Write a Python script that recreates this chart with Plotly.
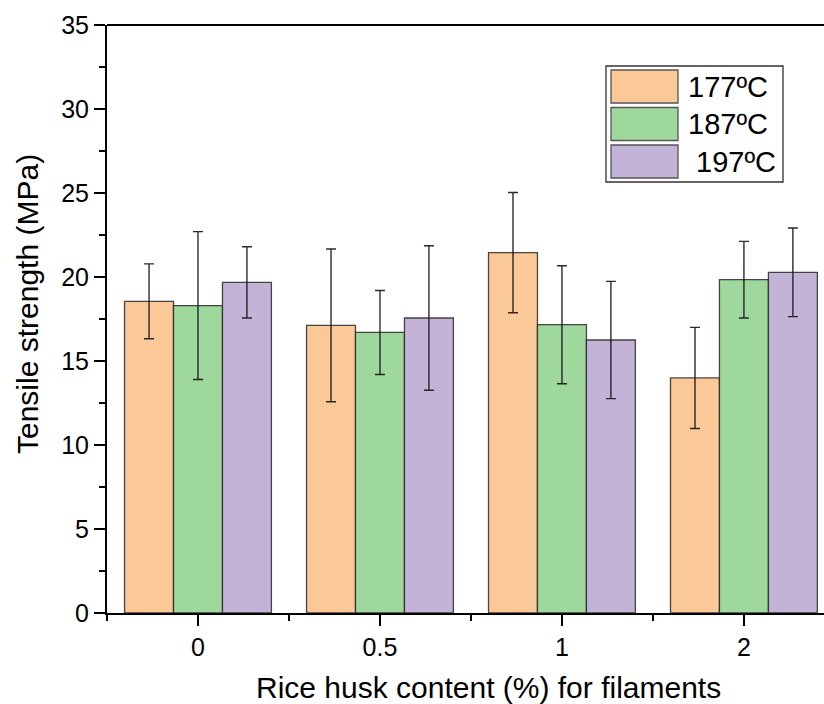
import plotly.graph_objects as go

categories = ["0", "0.5", "1", "2"]
series_names = ["177ºC", "187ºC", " 197ºC"]
values_177 = [18.55, 17.12, 21.45, 13.99]
errors_177 = [2.23, 4.55, 3.58, 3.01]
values_187 = [18.30, 16.70, 17.16, 19.84]
errors_187 = [4.40, 2.50, 3.51, 2.28]
values_197 = [19.68, 17.56, 16.25, 20.28]
errors_197 = [2.12, 4.30, 3.49, 2.64]
colors = ["#FBC898", "#9FD89C", "#C3B3D6"]
x_title = "Rice husk content (%) for filaments"
y_title = "Tensile strength (MPa)"

FONT = "Arial, Liberation Sans, sans-serif"
xpos = list(range(len(categories)))

fig = go.Figure()
for name, vals, errs, col in zip(series_names,
                                 [values_177, values_187, values_197],
                                 [errors_177, errors_187, errors_197],
                                 colors):
    fig.add_trace(go.Bar(
        x=xpos, y=vals, name=name,
        marker=dict(color=col, line=dict(color="rgba(40,40,40,0.85)", width=1.3)),
        error_y=dict(type="data", array=errs, visible=True,
                     color="rgba(20,20,20,0.9)", thickness=1.4, width=5),
        showlegend=False,
    ))

W, H = 824, 704
ml, mr, mt, mb = 107, 0, 25, 91
pw, ph = W - ml - mr, H - mt - mb


def px_to_paper(x, y):
    return (x - ml) / pw, 1 - (y - mt) / ph


shapes = []
annotations = []

# custom legend (large swatches as in the reference)
lx0, lx1 = 606, 783
ly0, ly1 = 66, 182
a = px_to_paper(lx0, ly0)
b = px_to_paper(lx1, ly1)
shapes.append(dict(type="rect", xref="paper", yref="paper", x0=a[0], y0=b[1], x1=b[0], y1=a[1],
                   line=dict(color="#333333", width=1.3), fillcolor="white", layer="above"))
for i, (name, col) in enumerate(zip(series_names, colors)):
    top = 70 + i * 37.5
    p0 = px_to_paper(611, top)
    p1 = px_to_paper(678, top + 33)
    shapes.append(dict(type="rect", xref="paper", yref="paper", x0=p0[0], y0=p1[1], x1=p1[0], y1=p0[1],
                       line=dict(color="#555555", width=1.3), fillcolor=col, layer="above"))
    t = px_to_paper(686, top + 17)
    annotations.append(dict(xref="paper", yref="paper", x=t[0], y=t[1], text=name.replace(" ", "&nbsp;"),
                            showarrow=False, xanchor="left", yanchor="middle",
                            font=dict(family=FONT, size=29, color="black")))

# axis titles
tx = px_to_paper(489, 687)
annotations.append(dict(xref="paper", yref="paper", x=tx[0], y=tx[1], text=x_title,
                        showarrow=False, xanchor="center", yanchor="middle",
                        font=dict(family=FONT, size=30, color="black")))
ty = px_to_paper(27, 304)
annotations.append(dict(xref="paper", yref="paper", x=ty[0], y=ty[1], text=y_title, textangle=-90,
                        showarrow=False, xanchor="center", yanchor="middle",
                        font=dict(family=FONT, size=30, color="black")))

# top frame line
shapes.append(dict(type="line", xref="paper", yref="paper", x0=0, x1=1, y0=1, y1=1,
                   line=dict(color="black", width=2)))

fig.update_layout(
    width=W, height=H,
    margin=dict(l=ml, r=mr, t=mt, b=mb),
    paper_bgcolor="white", plot_bgcolor="white",
    barmode="group", bargap=0.193, bargroupgap=0,
    shapes=shapes, annotations=annotations,
    font=dict(family=FONT, color="black"),
    xaxis=dict(
        range=[-0.5, 3.44], tickmode="array", tickvals=xpos, ticktext=categories,
        showline=True, linecolor="black", linewidth=2,
        ticks="outside", ticklen=11, tickwidth=2, tickcolor="black",
        minor=dict(tickmode="linear", tick0=-0.5, dtick=1, ticks="outside", ticklen=6,
                   tickwidth=2, tickcolor="black", showgrid=False),
        showgrid=False, zeroline=False,
        tickfont=dict(family=FONT, size=25, color="black"),
    ),
    yaxis=dict(
        range=[0, 35], tickmode="linear", tick0=0, dtick=5,
        showline=True, linecolor="black", linewidth=2,
        ticks="outside", ticklen=11, tickwidth=2, tickcolor="black",
        minor=dict(tickmode="linear", tick0=0, dtick=2.5, ticks="outside", ticklen=6,
                   tickwidth=2, tickcolor="black", showgrid=False),
        showgrid=False, zeroline=False,
        tickfont=dict(family=FONT, size=25, color="black"),
    ),
)

fig.write_html("out.html")
